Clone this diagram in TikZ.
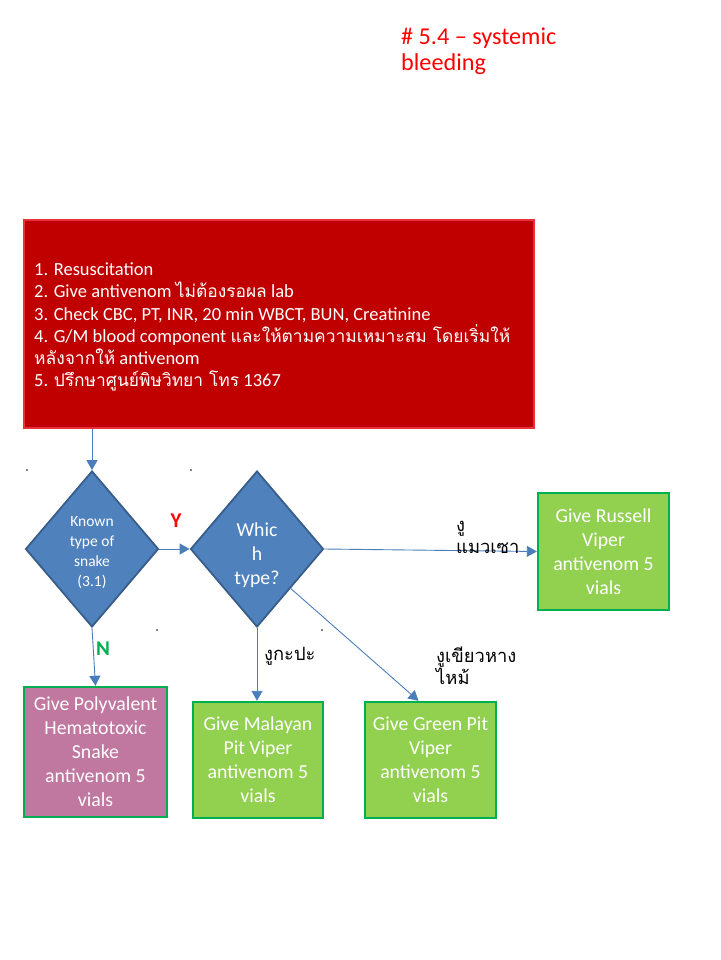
\documentclass[tikz,border=0pt]{standalone}
\usepackage{fontspec}
\setmainfont{Carlito}
\newfontfamily\thai[Script=Thai,Scale=0.94]{Loma}
\usetikzlibrary{shapes.geometric,arrows.meta}
\definecolor{redfill}{HTML}{C00000}
\definecolor{redline}{HTML}{E8303A}
\definecolor{bluefill}{HTML}{4F81BD}
\definecolor{blueline}{HTML}{385D8A}
\definecolor{conncol}{HTML}{4A7EBB}
\definecolor{greenfill}{HTML}{92D050}
\definecolor{greenline}{HTML}{00B050}
\definecolor{pinkfill}{HTML}{C077A0}
\definecolor{titlered}{HTML}{FF0000}
\begin{document}
\begin{tikzpicture}[x=1pt,y=-1pt,
  conn/.style={draw=conncol, line width=0.9pt, -{Triangle[length=10pt,width=11pt]}},
  dia/.style={diamond, draw=blueline, fill=bluefill, line width=1.8pt, inner sep=0pt, minimum width=133pt, minimum height=156pt},
  gbox/.style={rectangle, draw=greenline, line width=2.4pt, fill=greenfill, text=white, align=center, inner sep=0pt, font=\fontsize{19.8}{24}\selectfont},
  lbl/.style={text=black, align=left, inner sep=0pt, font=\fontsize{19.5}{22}\selectfont\thai},
]
\useasboundingbox (0,0) rectangle (720,960);
\fill[white] (0,0) rectangle (720,960);

% title
\node[anchor=base west, inner sep=0pt, text=titlered, font=\fontsize{24.2}{26}\selectfont] (t1) at (401,45) {\# 5.4 – systemic};
\node[anchor=base west, inner sep=0pt, text=titlered, font=\fontsize{24.2}{26}\selectfont] (t2) at (401,71) {bleeding};

% red box
\node[rectangle, draw=redline, line width=1.2pt, fill=redfill, minimum width=510pt, minimum height=208pt, inner sep=0pt] (rb) at (279,324) {};
\node[anchor=west, align=left, text=white, inner sep=0pt, font=\fontsize{18.5}{22.2}\selectfont] (rbt) at (34,327) {1. Resuscitation\\
2. Give antivenom {\thai ไม่ต้องรอผล} lab\\
3. Check CBC, PT, INR, 20 min WBCT, BUN, Creatinine\\
4. G/M blood component {\thai และให้ตามความเหมาะสม โดยเริ่มให้}\\
{\thai หลังจากให้} antivenom\\
5. {\thai ปรึกษาศูนย์พิษวิทยา โทร} 1367};

% diamonds
\node[dia] (d1) at (92,549) {};
\node[align=center, text=white, inner sep=0pt, font=\fontsize{15.5}{20}\selectfont] (d1t) at (92,553) {Known\\type of\\snake\\(3.1)};
\node[dia] (d2) at (257,549) {};
\node[align=center, text=white, inner sep=0pt, font=\fontsize{19.8}{24}\selectfont] (d2t) at (257,555) {Whic\\h\\type?};

% boxes
\node[gbox, minimum width=131pt, minimum height=117pt] (rv) at (603.5,551.5) {Give Russell\\Viper\\antivenom 5\\vials};
\node[gbox, minimum width=130pt, minimum height=116pt] (mp) at (258,760) {Give Malayan\\Pit Viper\\antivenom 5\\vials};
\node[gbox, minimum width=131pt, minimum height=116pt] (gp) at (430.5,760) {Give Green Pit\\Viper\\antivenom 5\\vials};
\node[gbox, fill=pinkfill, minimum width=143pt, minimum height=130pt] (pv) at (95.5,752) {Give Polyvalent\\Hematotoxic\\Snake\\antivenom 5\\vials};

% connectors
\draw[conn] (d1.north |- rb.south) -- (d1.north);
\draw[conn] (d1.east) -- (d2.west);
\draw[conn] (d2.east) -- (rv.west);
\draw[conn] (d2.south) -- (d2.south |- mp.north);
\coordinate (gpin) at ([xshift=-12pt]gp.north);
\draw[conn] (d2.south east) -- (gpin);
\coordinate (pvin) at ([xshift=0pt]pv.north);
\draw[conn] (d1.south) -- (pvin);

% labels
\node[text=titlered, inner sep=0pt, font=\fontsize{21}{22}\selectfont\bfseries] (ly) at (176,521) {Y};
\node[text=greenline, inner sep=0pt, font=\fontsize{21}{22}\selectfont\bfseries] (ln) at (103,649) {N};
\node[lbl, anchor=west] (l1) at (456,537) {งู\\แมวเซา};
\node[lbl, anchor=west] (l2) at (264,656) {งูกะปะ};
\node[lbl, anchor=west] (l3) at (436,666) {งูเขียวหาง\\ไหม้};

% stray dots
\fill[black] (27,470) circle (0.9pt);
\fill[black] (191,470) circle (0.9pt);
\fill[black] (157,630) circle (0.9pt);
\fill[black] (322,630) circle (0.9pt);
\end{tikzpicture}
\end{document}
